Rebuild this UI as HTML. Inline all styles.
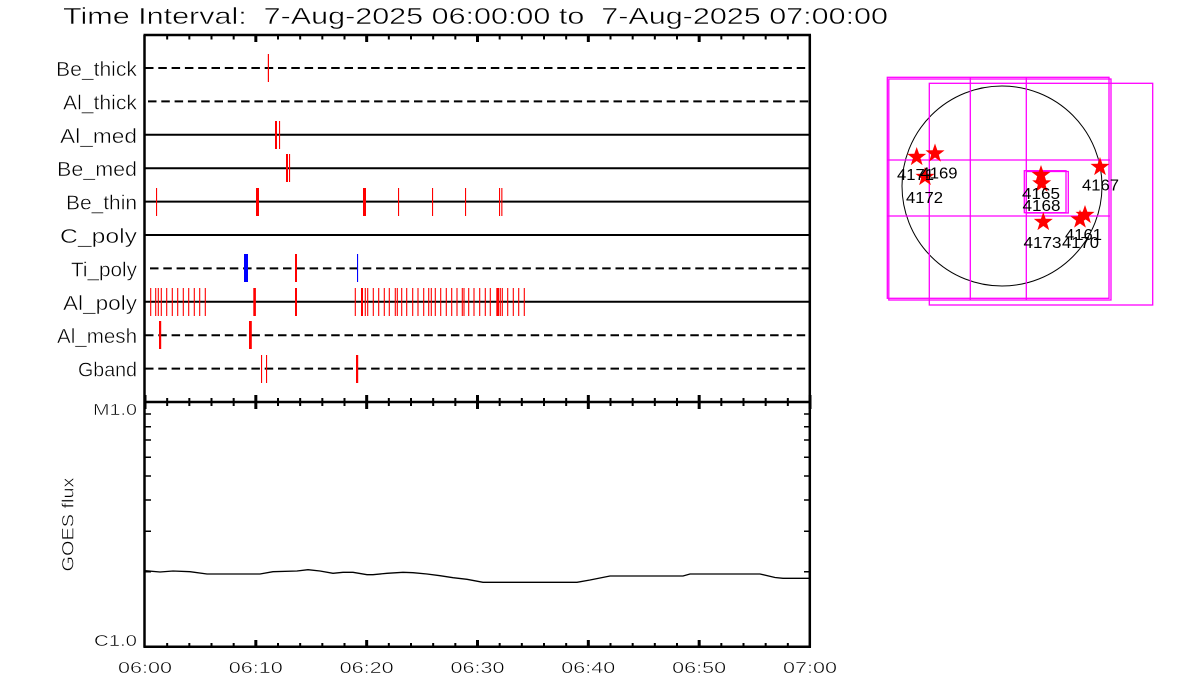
<!DOCTYPE html>
<html>
<head>
<meta charset="utf-8">
<style>
html,body{margin:0;padding:0;background:#fff;}
svg{display:block;}
text{font-family:"Liberation Sans",sans-serif;fill:#000;stroke:#fff;stroke-width:0.45px;}
.map text{stroke:none;}
</style>
</head>
<body>
<svg width="1200" height="700" viewBox="0 0 1200 700" xmlns="http://www.w3.org/2000/svg">
<defs>
<polygon id="st" points="0,-10 2.35,-3.24 9.51,-3.09 3.8,1.24 5.88,8.09 0,4 -5.88,8.09 -3.8,1.24 -9.51,-3.09 -2.35,-3.24" fill="#ff0000"/>
</defs>
<rect x="0" y="0" width="1200" height="700" fill="#fff"/>

<!-- Title -->
<text x="63" y="24" font-size="23" textLength="825" lengthAdjust="spacingAndGlyphs" xml:space="preserve">Time Interval:  7-Aug-2025 06:00:00 to  7-Aug-2025 07:00:00</text>

<!-- Row labels -->
<g font-size="20" text-anchor="end">
<text x="137" y="76" textLength="81" lengthAdjust="spacingAndGlyphs">Be_thick</text>
<text x="137" y="109.4" textLength="74" lengthAdjust="spacingAndGlyphs">Al_thick</text>
<text x="137" y="142.8" textLength="77" lengthAdjust="spacingAndGlyphs">Al_med</text>
<text x="137" y="176.2" textLength="80" lengthAdjust="spacingAndGlyphs">Be_med</text>
<text x="137" y="209.6" textLength="71" lengthAdjust="spacingAndGlyphs">Be_thin</text>
<text x="137" y="243" textLength="77" lengthAdjust="spacingAndGlyphs">C_poly</text>
<text x="137" y="276.4" textLength="66" lengthAdjust="spacingAndGlyphs">Ti_poly</text>
<text x="137" y="309.8" textLength="74" lengthAdjust="spacingAndGlyphs">Al_poly</text>
<text x="137" y="343.2" textLength="80" lengthAdjust="spacingAndGlyphs">Al_mesh</text>
<text x="137" y="376.6" textLength="59" lengthAdjust="spacingAndGlyphs">Gband</text>
</g>

<!-- Row lines -->
<g stroke="#000" stroke-width="2">
<line x1="145" y1="68" x2="809" y2="68" stroke-dasharray="8.5 4.8"/>
<line x1="148" y1="101.4" x2="809" y2="101.4" stroke-dasharray="8.5 4.8"/>
<line x1="145" y1="134.8" x2="809" y2="134.8"/>
<line x1="145" y1="168.2" x2="809" y2="168.2"/>
<line x1="145" y1="201.6" x2="809" y2="201.6"/>
<line x1="145" y1="235" x2="809" y2="235"/>
<line x1="150" y1="268.4" x2="809" y2="268.4" stroke-dasharray="8.5 4.8"/>
<line x1="145" y1="301.8" x2="809" y2="301.8"/>
<line x1="145" y1="335.2" x2="809" y2="335.2" stroke-dasharray="8.5 4.8"/>
<line x1="145" y1="368.6" x2="809" y2="368.6" stroke-dasharray="8.5 4.8"/>
</g>

<!-- Event marks -->
<g fill="#ff0000">
<rect x="267.8" y="54" width="1.2" height="28"/>
<rect x="275" y="121" width="2" height="28"/>
<rect x="279" y="121" width="1.1" height="28"/>
<rect x="286" y="154" width="2" height="28"/>
<rect x="289" y="154" width="1.1" height="28"/>
<rect x="156" y="188" width="1.1" height="28"/>
<rect x="256" y="188" width="3" height="28"/>
<rect x="363" y="188" width="3" height="28"/>
<rect x="398" y="188" width="1.1" height="28"/>
<rect x="432" y="188" width="1.1" height="28"/>
<rect x="465" y="188" width="1.1" height="28"/>
<rect x="499" y="188" width="1.1" height="28"/>
<rect x="501.3" y="188" width="1.1" height="28"/>
<rect x="295" y="254" width="2" height="28"/>
<rect x="159" y="321" width="2.2" height="28"/>
<rect x="249" y="321" width="2.8" height="28"/>
<rect x="261" y="355" width="1.1" height="28"/>
<rect x="266" y="355" width="1.1" height="28"/>
<rect x="356" y="355" width="2.2" height="28"/>
</g>
<g fill="#0000ff">
<rect x="244" y="254" width="4" height="28"/>
<rect x="357" y="254" width="1.1" height="28"/>
</g>
<g stroke="#ff0000" stroke-width="1.1">
<path d="M150.7 288V316M155.7 288V316M158.3 288V316M161.3 288V316M166.7 288V316M172.3 288V316M177.7 288V316M183.3 288V316M188.7 288V316M194.3 288V316M199.7 288V316M205.3 288V316
M355.3 288V316M365.3 288V316M367.7 288V316M373.3 288V316M378.7 288V316M384.3 288V316M389.3 288V316M395.3 288V316M397.3 288V316M401.7 288V316M406.7 288V316M412.7 288V316M418 288V316M423.7 288V316M428.7 288V316M431.3 288V316M435.3 288V316M440.7 288V316M446.3 288V316M451.7 288V316M457 288V316M462.3 288V316M464 288V316M468.7 288V316M474 288V316M479.7 288V316M485.3 288V316M490.3 288V316M500.3 288V316M502.3 288V316M507.7 288V316M513.3 288V316M518.7 288V316M524.3 288V316"/>
</g>
<g fill="#ff0000">
<rect x="253.3" y="288" width="2.6" height="28"/>
<rect x="295" y="288" width="2" height="28"/>
<rect x="361" y="288" width="2" height="28"/>
<rect x="496.3" y="288" width="2.8" height="28"/>
</g>

<!-- Frame -->
<g stroke="#000" fill="none">
<line x1="144.5" y1="35" x2="144.5" y2="647.5" stroke-width="2.5"/>
<line x1="809.8" y1="35" x2="809.8" y2="647.5" stroke-width="2.5"/>
<line x1="143.5" y1="35" x2="811" y2="35" stroke-width="2.5"/>
<line x1="143.5" y1="402" x2="811" y2="402" stroke-width="2.5"/>
<line x1="143.5" y1="646.7" x2="811" y2="646.7" stroke-width="2.5"/>
</g>

<!-- Ticks -->
<g stroke="#000" stroke-width="2">
<path d="M167.17 35V39.5M189.33 35V39.5M211.5 35V39.5M233.67 35V39.5M278 35V39.5M300.17 35V39.5M322.33 35V39.5M344.5 35V39.5M388.83 35V39.5M411 35V39.5M433.17 35V39.5M455.33 35V39.5M499.67 35V39.5M521.83 35V39.5M544 35V39.5M566.17 35V39.5M610.5 35V39.5M632.67 35V39.5M654.83 35V39.5M677 35V39.5M721.33 35V39.5M743.5 35V39.5M765.67 35V39.5M787.83 35V39.5"/>
<path d="M167.17 398V406M189.33 398V406M211.5 398V406M233.67 398V406M278 398V406M300.17 398V406M322.33 398V406M344.5 398V406M388.83 398V406M411 398V406M433.17 398V406M455.33 398V406M499.67 398V406M521.83 398V406M544 398V406M566.17 398V406M610.5 398V406M632.67 398V406M654.83 398V406M677 398V406M721.33 398V406M743.5 398V406M765.67 398V406M787.83 398V406"/>
<path d="M167.17 647V643M189.33 647V643M211.5 647V643M233.67 647V643M278 647V643M300.17 647V643M322.33 647V643M344.5 647V643M388.83 647V643M411 647V643M433.17 647V643M455.33 647V643M499.67 647V643M521.83 647V643M544 647V643M566.17 647V643M610.5 647V643M632.67 647V643M654.83 647V643M677 647V643M721.33 647V643M743.5 647V643M765.67 647V643M787.83 647V643"/>
</g>
<g stroke="#000" stroke-width="3">
<path d="M255.83 35V42M366.67 35V42M477.5 35V42M588.33 35V42M699.17 35V42"/>
<path d="M145 395V409M255.83 395V409M366.67 395V409M477.5 395V409M588.33 395V409M699.17 395V409M810 395V409"/>
<path d="M255.83 647V640M366.67 647V640M477.5 647V640M588.33 647V640M699.17 647V640"/>
</g>
<g stroke="#000" stroke-width="1.5">
<path d="M145 414H151M145 426.7H151M145 440H151M145 457.3H151M145 476H151M145 500H151M145 531.3H151M145 571.7H151"/>
<path d="M810 414H804M810 426.7H804M810 440H804M810 457.3H804M810 476H804M810 500H804M810 531.3H804M810 571.7H804"/>
</g>

<!-- GOES curve -->
<polyline fill="none" stroke="#000" stroke-width="1.3" points="145,570.7 160,572 173,571 190,571.7 207,574 260,574 273,571.7 297,571 308,569.7 320,571 333,573.3 343,572.3 353,572.3 367,574.7 373,574.7 387,573.3 403,572.3 413,572.7 427,574 440,575.7 453,577.7 467,579.3 483,582.3 577,582.3 590,580 610,576 683,576 690,574 760,574 775,577.5 783,578.3 810,578.3"/>

<!-- Lower panel labels -->
<g font-size="16">
<text x="137" y="415" text-anchor="end" textLength="44" lengthAdjust="spacingAndGlyphs">M1.0</text>
<text x="137" y="646" text-anchor="end" textLength="43" lengthAdjust="spacingAndGlyphs">C1.0</text>
<text transform="translate(73.5,524.5) rotate(-90)" text-anchor="middle" font-size="17" textLength="94" lengthAdjust="spacingAndGlyphs">GOES flux</text>
</g>
<g font-size="16" text-anchor="middle">
<text x="145" y="673" textLength="54" lengthAdjust="spacingAndGlyphs">06:00</text>
<text x="255.8" y="673" textLength="54" lengthAdjust="spacingAndGlyphs">06:10</text>
<text x="366.7" y="673" textLength="54" lengthAdjust="spacingAndGlyphs">06:20</text>
<text x="477.5" y="673" textLength="54" lengthAdjust="spacingAndGlyphs">06:30</text>
<text x="588.3" y="673" textLength="54" lengthAdjust="spacingAndGlyphs">06:40</text>
<text x="699.2" y="673" textLength="54" lengthAdjust="spacingAndGlyphs">06:50</text>
<text x="810" y="673" textLength="54" lengthAdjust="spacingAndGlyphs">07:00</text>
</g>

<!-- Map -->
<circle cx="1002" cy="186" r="100" fill="none" stroke="#000" stroke-width="1"/>
<g stroke="#ff00ff" fill="none" stroke-width="1.3">
<rect x="887.3" y="77.3" width="221.7" height="221"/>
<rect x="888.8" y="79" width="222.2" height="221"/>
<rect x="929.3" y="83.3" width="223.4" height="221.7"/>
<line x1="970.3" y1="77" x2="970.3" y2="300"/>
<line x1="1026.3" y1="77" x2="1026.3" y2="300"/>
<line x1="887" y1="160" x2="1110" y2="160"/>
<line x1="887" y1="216" x2="1110" y2="216"/>
<rect x="1024.3" y="170.7" width="41.7" height="42"/>
<rect x="1026.3" y="171.5" width="42" height="41.5"/>
</g>
<use href="#st" x="916.7" y="157"/>
<use href="#st" x="935" y="153.5"/>
<use href="#st" x="925" y="177"/>
<use href="#st" x="1041" y="175"/>
<use href="#st" x="1041.7" y="183.5"/>
<use href="#st" x="1100" y="167"/>
<use href="#st" x="1043.3" y="222"/>
<use href="#st" x="1080" y="219.5"/>
<use href="#st" x="1085" y="215"/>
<g class="map" font-size="16">
<text x="897" y="180" textLength="37" lengthAdjust="spacingAndGlyphs">4171</text>
<text x="920.5" y="178.5" textLength="37" lengthAdjust="spacingAndGlyphs">4169</text>
<text x="906" y="203" textLength="37" lengthAdjust="spacingAndGlyphs">4172</text>
<text x="1022" y="199" textLength="38" lengthAdjust="spacingAndGlyphs">4165</text>
<text x="1022.5" y="211" textLength="38" lengthAdjust="spacingAndGlyphs">4168</text>
<text x="1082" y="190.5" textLength="37" lengthAdjust="spacingAndGlyphs">4167</text>
<text x="1023.5" y="248" textLength="38" lengthAdjust="spacingAndGlyphs">4173</text>
<text x="1062" y="248" textLength="37" lengthAdjust="spacingAndGlyphs">4170</text>
<text x="1065" y="240" textLength="37" lengthAdjust="spacingAndGlyphs">4161</text>
</g>
</svg>
</body>
</html>
